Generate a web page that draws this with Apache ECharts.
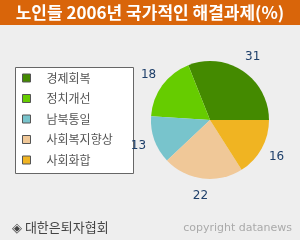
<!DOCTYPE html>
<html><head><meta charset="utf-8">
<script src="https://cdn.jsdelivr.net/npm/echarts@6/dist/echarts.min.js"></script>
<style>html,body{margin:0;padding:0;background:#eeeeee}#c{width:300px;height:240px}</style>
</head><body><div id="c"></div>
<script>
var titleText = '노인들 2006년 국가적인 해결과제(%)';
var categories = ['경제회복', '정치개선', '남북통일', '사회복지향상', '사회화합'];
var values = [31, 18, 13, 22, 16];
var colors = ['#448a00', '#66cc00', '#78c4cc', '#f0c898', '#f0b422'];
var sourceText = '◈ 대한은퇴자협회';
var copyText = 'copyright datanews';

var pieData = categories.map(function (n, i) { return {name: n, value: values[i]}; });
var chart = echarts.init(document.getElementById('c'), null, {renderer: 'canvas'});
chart.setOption({
  backgroundColor: '#eeeeee',
  animation: false,
  graphic: [
    {type: 'rect', z: 0, shape: {x: 0, y: 0, width: 300, height: 25}, style: {fill: '#d9650a'}},
    {type: 'text', z: 1, x: 150, y: 13, style: {text: titleText, fill: '#ffffff', font: 'bold 17px "Noto Sans CJK KR"', align: 'center', verticalAlign: 'middle'}},
    {type: 'rect', z: 0, shape: {x: 15.5, y: 67.5, width: 118, height: 106}, style: {fill: '#ffffff', stroke: '#666666', lineWidth: 1}},
    {type: 'text', z: 1, x: 12, y: 227, style: {text: sourceText, fill: '#444444', font: '13px "Noto Sans CJK KR"', verticalAlign: 'middle'}},
    {type: 'text', z: 1, x: 292, y: 228, style: {text: copyText, fill: '#aaaaaa', font: '11px "DejaVu Sans"', align: 'right', verticalAlign: 'middle'}}
  ],
  legend: {
    orient: 'vertical',
    left: 17, top: 66,
    itemWidth: 8, itemHeight: 8,
    itemGap: 6.5,
    icon: 'rect',
    itemStyle: {borderColor: '#555555', borderWidth: 1},
    textStyle: {color: '#555555', fontSize: 12, fontFamily: '"Noto Sans CJK KR"', lineHeight: 14, padding: [0, 0, 0, 11]},
    data: categories
  },
  series: [{
    type: 'pie',
    center: [210, 120],
    radius: 59,
    startAngle: 0,
    clockwise: false,
    color: colors,
    label: {show: false},
    labelLine: {show: false},
    emphasis: {disabled: true},
    data: pieData
  }, {
    type: 'pie',
    center: [210, 120],
    radius: [59, 87],
    startAngle: 0,
    clockwise: false,
    silent: true,
    itemStyle: {color: 'rgba(0,0,0,0)'},
    label: {show: true, position: 'inside', color: '#1e3f6a', fontSize: 12, fontFamily: '"DejaVu Sans"', formatter: '{c}'},
    labelLine: {show: false},
    emphasis: {disabled: true},
    data: pieData
  }]
});
</script></body></html>
